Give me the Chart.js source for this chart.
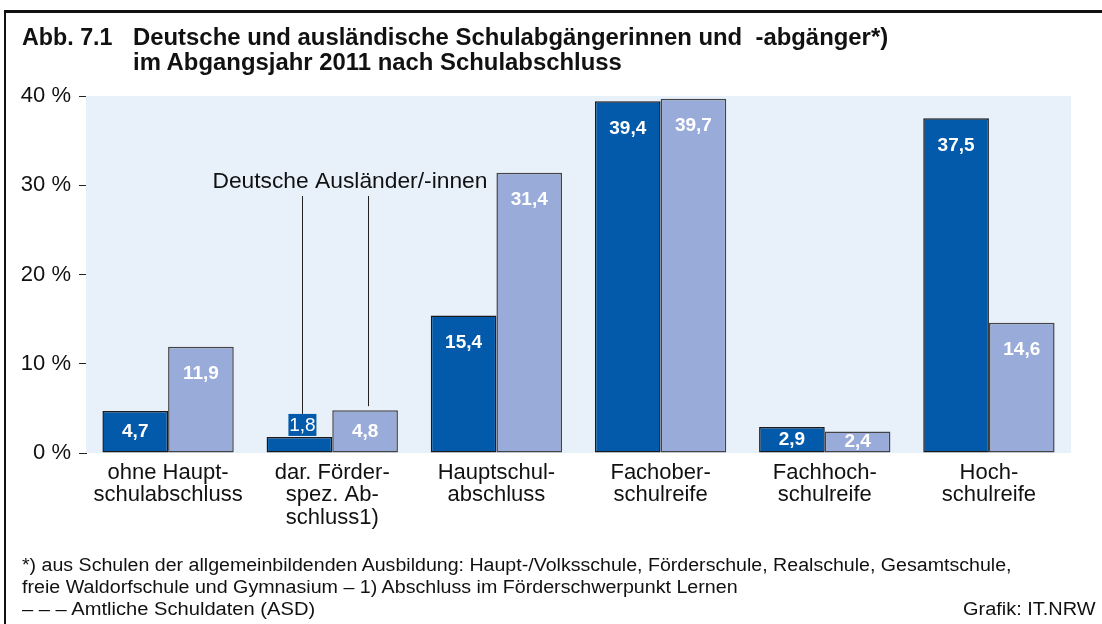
<!DOCTYPE html>
<html>
<head>
<meta charset="utf-8">
<script src="https://cdn.jsdelivr.net/npm/chart.js@4.4.1/dist/chart.umd.min.js"></script>
<style>
  body { margin: 0; background: #fff; font-family: Arial, "Liberation Sans", sans-serif; }
  #wrap { position: relative; width: 1102px; height: 624px; overflow: hidden; background: #fff; }
  #frame { position: absolute; left: 4px; top: 10px; width: 1200px; height: 700px;
           border-left: 2px solid #111; border-top: 3px solid #111; }
  #grafik { position: absolute; left: 0; top: 0; }
  .txt { position: absolute; white-space: pre; color: #111; transform-origin: 0 50%; }
  .ttl { font-size: 23px; font-weight: bold; line-height: 25px; }
  .fn { font-size: 18px; line-height: 22px; }
</style>
</head>
<body>
<div id="wrap">
  <canvas id="grafik" width="1102" height="624"></canvas>
  <div id="frame"></div>
  <div class="txt ttl" style="left:22px;top:25px" data-w="90">Abb. 7.1</div>
  <div class="txt ttl" style="left:133px;top:25px" data-w="755">Deutsche und ausländische Schulabgängerinnen und  -abgänger*)</div>
  <div class="txt ttl" style="left:133px;top:50px" data-w="489">im Abgangsjahr 2011 nach Schulabschluss</div>
  <div class="txt fn" style="left:22px;top:554px" data-w="990">*) aus Schulen der allgemeinbildenden Ausbildung: Haupt-/Volksschule, Förderschule, Realschule, Gesamtschule,</div>
  <div class="txt fn" style="left:22px;top:576px" data-w="716">freie Waldorfschule und Gymnasium – 1) Abschluss im Förderschwerpunkt Lernen</div>
  <div class="txt fn" style="left:22px;top:598px" data-w="293">– – – Amtliche Schuldaten (ASD)</div>
  <div class="txt fn" style="left:963px;top:598px" data-w="133">Grafik: IT.NRW</div>
</div>
<script>
// Daten: Abgangsjahr 2011, Anteile in %
const abschluesse = [
  ["ohne Haupt-", "schulabschluss"],
  ["dar. Förder-", "spez. Ab-", "schluss1)"],
  ["Hauptschul-", "abschluss"],
  ["Fachober-", "schulreife"],
  ["Fachhoch-", "schulreife"],
  ["Hoch-", "schulreife"]
];
const deutsche = [4.7, 1.8, 15.4, 39.4, 2.9, 37.5];
const auslaender = [11.9, 4.8, 31.4, 39.7, 2.4, 14.6];
const yTicks = [0, 10, 20, 30, 40];

// html-texte auf die breite im original bringen
document.querySelectorAll(".txt").forEach(el => {
  const soll = +el.dataset.w;
  el.style.transform = "scaleX(" + (soll / el.offsetWidth) + ")";
});

const dunkel = "#035aaa";
const hell = "#99abd8";

// hintergrund der zeichenflaeche
const hintergrund = {
  id: "hintergrund",
  beforeDatasetsDraw(chart) {
    const { ctx, chartArea: a } = chart;
    ctx.save();
    ctx.fillStyle = "#e8f0fa";
    ctx.fillRect(a.left, a.top, a.right - a.left, a.bottom - a.top);
    ctx.restore();
  }
};

// werte in die balken schreiben + beschriftung deutsche/auslaender
const werte = {
  id: "werte",
  afterDatasetsDraw(chart) {
    const ctx = chart.ctx;
    const yScale = chart.scales.y;
    ctx.save();
    ctx.textAlign = "center";
    ctx.textBaseline = "middle";
    chart.data.datasets.forEach((ds, di) => {
      chart.getDatasetMeta(di).data.forEach((bar, i) => {
        const txt = ds.data[i].toFixed(1).replace(".", ",");
        const hoehe = bar.base - bar.y;
        if (hoehe < 18) {
          // kleiner balken: wert mit kasten ueber dem balken
          ctx.font = "19px Arial";
          const x = bar.x + 3;
          ctx.fillStyle = dunkel;
          ctx.fillRect(x - 14, bar.y - 23, 28, 22);
          ctx.fillStyle = "#fff";
          ctx.fillText(txt, x, bar.y - 11);
        } else {
          ctx.font = "bold 19px Arial";
          ctx.fillStyle = "#fff";
          const y = Math.min(bar.y + 27, (bar.y + bar.base) / 2);
          ctx.fillText(txt, bar.x, y);
        }
      });
    });

    // legende als hinweislinien an der kategorie "dar. Förder..."
    const d = chart.getDatasetMeta(0).data[1];
    const a = chart.getDatasetMeta(1).data[1];
    const yText = yScale.getPixelForValue(30.4);
    const yStart = yScale.getPixelForValue(28.8);
    ctx.font = "22.8px Arial";
    ctx.fillStyle = "#111";
    ctx.textAlign = "left";
    ctx.fillText("Deutsche Ausländer/-innen", d.x - 87, yText);
    ctx.strokeStyle = "#222";
    ctx.lineWidth = 1;
    ctx.beginPath();
    ctx.moveTo(Math.round(d.x + 3) + 0.5, yStart);
    ctx.lineTo(Math.round(d.x + 3) + 0.5, d.y - 23);
    ctx.moveTo(Math.round(a.x + 3) + 0.5, yStart);
    ctx.lineTo(Math.round(a.x + 3) + 0.5, a.y - 4);
    ctx.stroke();
    ctx.restore();
  }
};

new Chart(document.getElementById("grafik"), {
  type: "bar",
  data: {
    labels: abschluesse,
    datasets: [
      {
        label: "Deutsche",
        data: deutsche,
        backgroundColor: dunkel,
        borderColor: "#1a1a1a",
        borderWidth: 1.5,
        borderSkipped: false
      },
      {
        label: "Ausländer/-innen",
        data: auslaender,
        backgroundColor: hell,
        borderColor: "#444",
        borderWidth: 1.5,
        borderSkipped: false
      }
    ]
  },
  options: {
    responsive: false,
    animation: false,
    events: [],
    categoryPercentage: 0.8,
    barPercentage: 1.0,
    layout: { padding: { top: 96, right: 31, left: 0, bottom: 0 } },
    plugins: { legend: { display: false }, tooltip: { enabled: false } },
    scales: {
      x: {
        grid: { display: false, drawTicks: false },
        border: { display: false },
        ticks: {
          color: "#111",
          font: { family: "Arial", size: 22, lineHeight: 1.04 },
          padding: 8,
          maxRotation: 0,
          autoSkip: false
        },
        afterFit(s) { s.height = 171; }
      },
      y: {
        min: 0,
        max: 40,
        afterBuildTicks(s) { s.ticks = yTicks.map(v => ({ value: v })); },
        grid: { drawOnChartArea: false, drawTicks: true, tickLength: 7, color: "#222" },
        border: { display: true, color: "#222", width: 1 },
        ticks: {
          color: "#111",
          font: { family: "Arial", size: 22 },
          padding: 8,
          callback: v => v + " %"
        },
        afterFit(s) { s.width = 86; }
      }
    }
  },
  plugins: [hintergrund, werte]
});
</script>
</body>
</html>
